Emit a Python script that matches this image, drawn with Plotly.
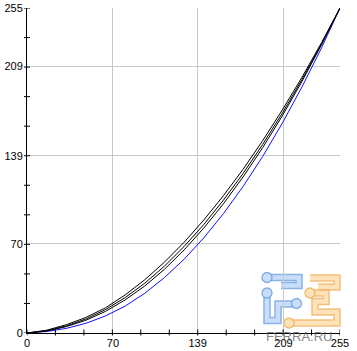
import plotly.graph_objects as go

# ---- data ----
X_IN = [0, 16, 32, 48, 64, 80, 96, 112, 128, 144, 160, 176, 192, 208, 224, 240, 255]
BLACK_1 = [0, 2.2, 6.5, 12.2, 19.8, 29.9, 41.8, 55.6, 71.2, 88.6, 107.7, 128.4, 150.9, 175.0, 200.6, 227.9, 255]
BLACK_2 = [0, 1.8, 5.6, 11.0, 18.4, 27.8, 39.1, 52.5, 67.9, 85.1, 104.2, 125.1, 147.9, 172.5, 198.8, 227.0, 255]
BLACK_3 = [0, 1.5, 5.0, 10.0, 17.0, 26.0, 36.9, 50.0, 65.2, 82.3, 101.3, 122.4, 145.4, 170.4, 197.3, 226.2, 255]
BLUE = [0, 1.2, 3.6, 7.6, 13.4, 21.1, 31.2, 43.5, 57.9, 74.6, 93.6, 114.9, 138.5, 164.6, 193.0, 223.8, 255]

TICK_VALS = [0, 70, 139, 209, 255]
TICK_TEXT = ["0", "70", "139", "209", "255"]
MINOR_STEPS = 11
AX_MAX = 255

W, H = 357, 351
ML, MR, MT, MB = 27, 17, 8, 18
PW, PH = W - ML - MR, H - MT - MB

fig = go.Figure()
for ys, col in [(BLUE, "#1010ff"), (BLACK_3, "#000000"), (BLACK_2, "#000000"), (BLACK_1, "#000000")]:
    fig.add_trace(go.Scatter(x=X_IN, y=ys, mode="lines",
                             line=dict(color=col, width=1), hoverinfo="skip",
                             showlegend=False))

shapes = []
# minor/major tick marks crossing the axes
for i in range(MINOR_STEPS + 1):
    v = AX_MAX * i / MINOR_STEPS
    shapes.append(dict(type="line", xref="x", yref="paper", x0=v, x1=v,
                       y0=-2.5 / PH, y1=3.5 / PH, line=dict(color="black", width=1)))
    shapes.append(dict(type="line", xref="paper", yref="y", y0=v, y1=v,
                       x0=-3 / PW, x1=3 / PW, line=dict(color="black", width=1)))

# watermark logo (decorative), pixel coordinates -> paper
def px(x):
    return (x - ML) / PW

def py(y):
    return 1 - (y - MT) / PH

def path(points):
    d = "M %f,%f " % (px(points[0][0]), py(points[0][1]))
    for p in points[1:]:
        d += "L %f,%f " % (px(p[0]), py(p[1]))
    return d

blue_paths = [
    [(267, 277.5), (299, 277.5), (299, 285.5), (281, 285.5)],
    [(267, 293), (267, 320.5), (278, 320.5), (278, 304), (296, 304)],
]
orange_paths = [
    [(310, 278), (337, 278), (337, 287), (318, 287)],
    [(310, 293), (326, 293), (326, 301.5), (315, 301.5), (315, 312), (337, 312), (337, 323), (289, 323)],
]
blue_circles = [(267, 277.5), (267, 293), (296.5, 303.5)]
orange_circles = [(310, 293), (289, 323)]

for pts_list, outer, inner in [(blue_paths, "rgba(110,160,225,0.8)", "rgba(200,222,250,1)"),
                               (orange_paths, "rgba(240,175,90,0.8)", "rgba(253,226,186,1)")]:
    for pts in pts_list:
        shapes.append(dict(type="path", xref="paper", yref="paper", path=path(pts),
                           line=dict(color=outer, width=7.5), layer="below"))
        shapes.append(dict(type="path", xref="paper", yref="paper", path=path(pts),
                           line=dict(color=inner, width=4.5), layer="below"))

for circ, outer, inner in [(blue_circles, "rgba(110,160,225,0.85)", "rgba(200,222,250,1)"),
                           (orange_circles, "rgba(240,175,90,0.85)", "rgba(253,226,186,1)")]:
    for (cx, cy) in circ:
        r = 5
        shapes.append(dict(type="circle", xref="paper", yref="paper",
                           x0=px(cx - r), x1=px(cx + r), y0=py(cy + r), y1=py(cy - r),
                           line=dict(color=outer, width=1.3), fillcolor=inner, layer="below"))

axis_common = dict(
    range=[0, AX_MAX], tickmode="array", tickvals=TICK_VALS, ticktext=TICK_TEXT,
    showgrid=True, gridcolor="#c8c8c8", gridwidth=1, zeroline=False,
    showline=True, linecolor="black", linewidth=1, ticks="",
    tickfont=dict(family="Liberation Sans, Arial, sans-serif", size=11, color="#000000"),
    fixedrange=True, automargin=False,
)

fig.update_layout(
    width=W, height=H,
    margin=dict(l=ML, r=MR, t=MT, b=MB, pad=0, autoexpand=False),
    paper_bgcolor="white", plot_bgcolor="white",
    xaxis=dict(**axis_common, ticklabelstandoff=0),
    yaxis=dict(**axis_common, ticklabelstandoff=1),
    shapes=shapes,
    annotations=[dict(text="FERRA.RU", xref="paper", yref="paper",
                      x=px(299), y=py(336), xanchor="center", yanchor="middle",
                      showarrow=False,
                      font=dict(family="Liberation Sans, Arial, sans-serif", size=13,
                                color="rgba(100,100,100,0.8)"))],
)

fig.write_html("out.html", config={"displayModeBar": False})
